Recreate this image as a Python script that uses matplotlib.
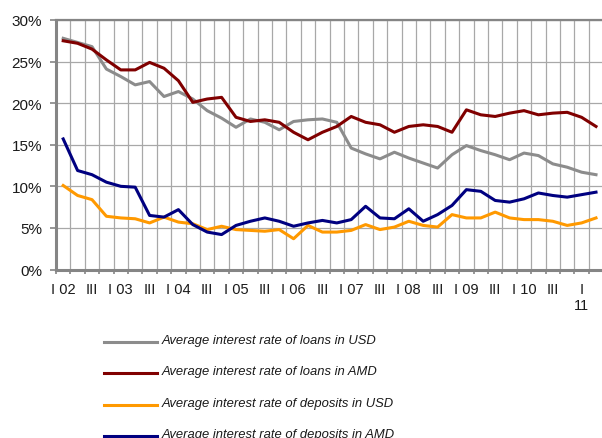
import matplotlib
matplotlib.use("Agg")
import numpy as np
import matplotlib.pyplot as plt
from matplotlib.lines import Line2D

plt.rcParams['font.family'] = ['Liberation Sans', 'DejaVu Sans']

# Quarterly observations, Q1 2002 .. Q2 2011
quarters = ["I 02", "II", "III", "IV", "I 03", "II", "III", "IV",
            "I 04", "II", "III", "IV", "I 05", "II", "III", "IV",
            "I 06", "II", "III", "IV", "I 07", "II", "III", "IV",
            "I 08", "II", "III", "IV", "I 09", "II", "III", "IV",
            "I 10", "II", "III", "IV", "I\n11", "II"]

loans_usd = [27.8, 27.3, 26.8, 24.1, 23.2, 22.2, 22.6, 20.8, 21.4, 20.5,
             19.1, 18.2, 17.1, 18.1, 17.7, 16.8, 17.8, 18.0, 18.1, 17.7,
             14.6, 13.9, 13.3, 14.1, 13.4, 12.8, 12.2, 13.8, 14.9, 14.3,
             13.8, 13.2, 14.0, 13.7, 12.7, 12.3, 11.7, 11.4]
loans_amd = [27.5, 27.2, 26.5, 25.2, 24.0, 24.0, 24.9, 24.2, 22.7, 20.1,
             20.5, 20.7, 18.3, 17.8, 18.0, 17.7, 16.5, 15.6, 16.5, 17.2,
             18.4, 17.7, 17.4, 16.5, 17.2, 17.4, 17.2, 16.5, 19.2, 18.6,
             18.4, 18.8, 19.1, 18.6, 18.8, 18.9, 18.3, 17.2]
deposits_usd = [10.1, 8.9, 8.4, 6.4, 6.2, 6.1, 5.6, 6.3, 5.7, 5.5,
                4.8, 5.2, 4.8, 4.7, 4.6, 4.8, 3.7, 5.3, 4.5, 4.5,
                4.7, 5.4, 4.8, 5.1, 5.8, 5.3, 5.1, 6.6, 6.2, 6.2,
                6.9, 6.2, 6.0, 6.0, 5.8, 5.3, 5.6, 6.2]
deposits_amd = [15.7, 11.9, 11.4, 10.5, 10.0, 9.9, 6.5, 6.3, 7.2, 5.4,
                4.5, 4.2, 5.3, 5.8, 6.2, 5.8, 5.2, 5.6, 5.9, 5.6,
                6.0, 7.6, 6.2, 6.1, 7.3, 5.8, 6.6, 7.7, 9.6, 9.4,
                8.3, 8.1, 8.5, 9.2, 8.9, 8.7, 9.0, 9.3]

series_names = ["Average interest rate of loans in USD",
                "Average interest rate of loans in AMD",
                "Average interest rate of deposits in USD",
                "Average interest rate of deposits in AMD"]
series_colors = ["#8c8c8c", "#800000", "#ff9900", "#000080"]
series_values = [loans_usd, loans_amd, deposits_usd, deposits_amd]

W, H = 602, 439
fig = plt.figure(figsize=(W / 100, H / 100), dpi=100)

# plot area in pixels
left_px, right_px, top_px, bottom_px = 56, 603.2, 21, 270.5
ax = fig.add_axes([left_px / W, 1 - bottom_px / H,
                   (right_px - left_px) / W, (bottom_px - top_px) / H])

x = np.arange(len(quarters))
for vals, color in zip(series_values, series_colors):
    ax.plot(x, vals, color=color, lw=2.2, solid_joinstyle='round', zorder=3)

ax.set_xlim(-0.5, len(quarters) - 0.5)
ax.set_ylim(0, 30)

grid_color = '#a8a8a8'
axis_color = '#858585'

# category labels on every second quarter, boundaries as minor ticks/grid
major_idx = list(range(0, len(quarters), 2))
ax.set_xticks(major_idx)
ax.set_xticklabels([quarters[i] for i in major_idx])
ax.set_xticks(np.arange(-0.5, len(quarters), 1), minor=True)
ax.tick_params(axis='x', which='major', length=0, pad=9, labelsize=10.5,
               labelcolor='#1a1a1a')
ax.tick_params(axis='x', which='minor', length=3, width=1.2, color=axis_color,
               direction='out')
ax.grid(which='minor', axis='x', color=grid_color, lw=0.9)

ax.set_yticks(range(0, 31, 5))
ax.set_yticklabels([f"{v}%" for v in range(0, 31, 5)])
ax.tick_params(axis='y', length=4, width=1.2, color=axis_color, pad=6,
               labelsize=11, labelcolor='#1a1a1a')
ax.grid(which='major', axis='y', color=grid_color, lw=0.9)
ax.set_axisbelow(True)

for side in ['left', 'bottom']:
    ax.spines[side].set_color(axis_color)
    ax.spines[side].set_linewidth(2.2)
ax.spines['top'].set_color(axis_color)
ax.spines['top'].set_linewidth(1.6)
ax.spines['right'].set_visible(False)

# legend rows below the chart
row_y = [342.7, 374.3, 406.0, 437.3]
for name, color, y in zip(series_names, series_colors, row_y):
    fig.add_artist(Line2D([104 / W, 157 / W], [1 - y / H, 1 - y / H],
                          color=color, lw=2.2, transform=fig.transFigure))
    fig.text(162 / W, 1 - (y - 2) / H, name, style='italic', fontsize=9.4,
             va='center', ha='left', color='#1a1a1a')

fig.savefig("out.png", dpi=100)
